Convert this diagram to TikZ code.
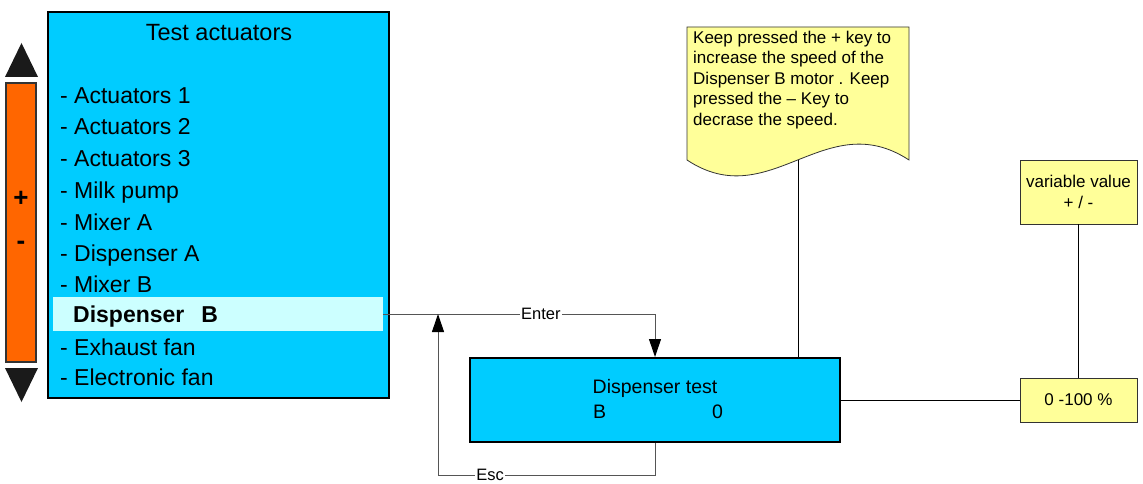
\documentclass[tikz,border=0pt]{standalone}
\usepackage{fontspec}
\setmainfont{Liberation Sans}
\usetikzlibrary{arrows.meta}
\definecolor{boxcyan}{HTML}{00CCFF}
\definecolor{hlcyan}{HTML}{CCFFFF}
\definecolor{noteyel}{HTML}{FFFF99}
\definecolor{barorange}{HTML}{FF6600}
\definecolor{linegray}{HTML}{555555}
\definecolor{tri}{HTML}{1A1A1A}
\tikzset{
  cyanbox/.style={draw=black, line width=2pt, fill=boxcyan, inner sep=0pt},
  yelbox/.style={draw=black!80, line width=0.8pt, fill=noteyel, inner sep=0pt, align=center, font=\fontsize{17}{20.5}\selectfont},
  item/.style={anchor=base west, inner sep=0pt, font=\fontsize{23}{27}\selectfont},
  flow/.style={draw=linegray, line width=1pt, -{Triangle[length=18pt,width=12pt,color=black]}},
  plain/.style={draw=black, line width=1pt},
  lbl/.style={fill=white, inner sep=1pt, font=\fontsize{16.5}{19}\selectfont},
}
\begin{document}
\begin{tikzpicture}[x=1pt,y=-1pt]
\useasboundingbox (0,0) rectangle (1143,484);
% main menu box
\node[cyanbox, minimum width=341pt, minimum height=386pt] (main) at (218.5,205) {};
\node[anchor=base, inner sep=0pt, font=\fontsize{23.5}{27}\selectfont] (title) at (219,41) {Test actuators};
\node[fill=hlcyan, inner sep=0pt, minimum width=330pt, minimum height=34pt] (hl) at (218,314) {};
\node[item] (i1) at (60,104) {- Actuators 1};
\node[item] (i2) at (60,135) {- Actuators 2};
\node[item] (i3) at (60,166) {- Actuators 3};
\node[item] (i4) at (60,198) {- Milk pump};
\node[item] (i5) at (60,230) {- Mixer A};
\node[item] (i6) at (60,261) {- Dispenser A};
\node[item] (i7) at (60,292) {- Mixer B};
\node[item, font=\fontsize{23}{27}\selectfont\bfseries] (i8) at (73,322) {Dispenser\hspace{17pt}B};
\node[item] (i9) at (60,355) {- Exhaust fan};
\node[item] (i10) at (60,385) {- Electronic fan};
% scroll bar
\node[draw=black!80, line width=1.5pt, fill=barorange, minimum width=30pt, minimum height=279pt, inner sep=0pt] (bar) at (21,222.5) {};
\node[inner sep=0pt, font=\fontsize{26}{28}\selectfont\bfseries] (plus) at (21,199) {+};
\node[inner sep=0pt, font=\fontsize{26}{28}\selectfont\bfseries] (minus) at (21,245) {-};
\fill[tri] (5,77) -- (38,77) -- (21.5,43) -- cycle;
\fill[tri] (5,368) -- (38,368) -- (21.5,402) -- cycle;
% dispenser test box
\node[cyanbox, minimum width=370pt, minimum height=84pt] (disp) at (655,400) {};
\node[anchor=base, inner sep=0pt, font=\fontsize{19.5}{23}\selectfont] (dtitle) at (655,393) {Dispenser test};
\node[anchor=base west, inner sep=0pt, font=\fontsize{19.5}{23}\selectfont] (dB) at (593,418) {B};
\node[anchor=base west, inner sep=0pt, font=\fontsize{19.5}{23}\selectfont] (d0) at (712,418) {0};
% note
\filldraw[fill=noteyel, draw=black!80, line width=0.8pt]
  (687,27) -- (909,27) -- (909,160)
  .. controls (825,105) and (770,215) .. (687,160) -- cycle;
\coordinate (notebot) at (798,160);
\node[anchor=north west, inner sep=0pt, align=left, font=\fontsize{17}{20.4}\selectfont] (note) at (693,31)
  {Keep pressed the + key to\\increase the speed of the\\Dispenser B motor . Keep\\pressed the -- Key to\\decrase the speed.};
% value boxes
\node[yelbox, minimum width=117pt, minimum height=64pt] (var) at (1078.5,192) {variable value\\+ / -};
\node[yelbox, minimum width=117pt, minimum height=44pt] (pct) at (1078.5,400) {0 -100 \%};
% connectors
\coordinate (escend) at (438,314);
\draw[flow] (hl.east) -| node[lbl, pos=0.29] {Enter} (disp.north);
\draw[flow] (disp.south) |- (escend |- 0,475) -- (escend);
\node[lbl] (esc) at (490,475) {Esc};
\draw[plain] (notebot) -- (notebot |- disp.north);
\draw[plain] (var.south) -- (pct.north);
\draw[plain] (disp.east) -- (pct.west);
\end{tikzpicture}
\end{document}
